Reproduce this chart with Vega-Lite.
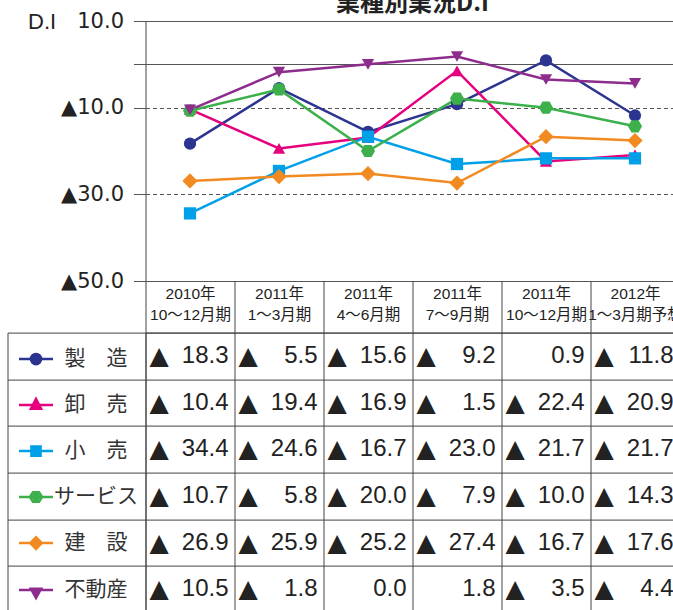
{
  "$schema": "https://vega.github.io/schema/vega-lite/v6.json",
  "padding": {"left": 6.5, "top": -9, "right": 0, "bottom": 0},
  "background": "white",
  "config": {
    "view": {"stroke": "#444", "strokeWidth": 1},
    "font": "Liberation Sans"
  },
  "data": {"values": [
    {"series": "製　造", "period": "2010年 10～12月期", "value": -18.3},
    {"series": "製　造", "period": "2011年 1～3月期", "value": -5.5},
    {"series": "製　造", "period": "2011年 4～6月期", "value": -15.6},
    {"series": "製　造", "period": "2011年 7～9月期", "value": -9.2},
    {"series": "製　造", "period": "2011年 10～12月期", "value": 0.9},
    {"series": "製　造", "period": "2012年 1～3月期予想", "value": -11.8},
    {"series": "卸　売", "period": "2010年 10～12月期", "value": -10.4},
    {"series": "卸　売", "period": "2011年 1～3月期", "value": -19.4},
    {"series": "卸　売", "period": "2011年 4～6月期", "value": -16.9},
    {"series": "卸　売", "period": "2011年 7～9月期", "value": -1.5},
    {"series": "卸　売", "period": "2011年 10～12月期", "value": -22.4},
    {"series": "卸　売", "period": "2012年 1～3月期予想", "value": -20.9},
    {"series": "小　売", "period": "2010年 10～12月期", "value": -34.4},
    {"series": "小　売", "period": "2011年 1～3月期", "value": -24.6},
    {"series": "小　売", "period": "2011年 4～6月期", "value": -16.7},
    {"series": "小　売", "period": "2011年 7～9月期", "value": -23.0},
    {"series": "小　売", "period": "2011年 10～12月期", "value": -21.7},
    {"series": "小　売", "period": "2012年 1～3月期予想", "value": -21.7},
    {"series": "サービス", "period": "2010年 10～12月期", "value": -10.7},
    {"series": "サービス", "period": "2011年 1～3月期", "value": -5.8},
    {"series": "サービス", "period": "2011年 4～6月期", "value": -20.0},
    {"series": "サービス", "period": "2011年 7～9月期", "value": -7.9},
    {"series": "サービス", "period": "2011年 10～12月期", "value": -10.0},
    {"series": "サービス", "period": "2012年 1～3月期予想", "value": -14.3},
    {"series": "建　設", "period": "2010年 10～12月期", "value": -26.9},
    {"series": "建　設", "period": "2011年 1～3月期", "value": -25.9},
    {"series": "建　設", "period": "2011年 4～6月期", "value": -25.2},
    {"series": "建　設", "period": "2011年 7～9月期", "value": -27.4},
    {"series": "建　設", "period": "2011年 10～12月期", "value": -16.7},
    {"series": "建　設", "period": "2012年 1～3月期予想", "value": -17.6},
    {"series": "不動産", "period": "2010年 10～12月期", "value": -10.5},
    {"series": "不動産", "period": "2011年 1～3月期", "value": -1.8},
    {"series": "不動産", "period": "2011年 4～6月期", "value": 0.0},
    {"series": "不動産", "period": "2011年 7～9月期", "value": 1.8},
    {"series": "不動産", "period": "2011年 10～12月期", "value": -3.5},
    {"series": "不動産", "period": "2012年 1～3月期予想", "value": -4.4}
  ]},
  "bounds": "flush",
  "spacing": 51.6,
  "resolve": {"scale": {"x": "independent", "y": "independent", "shape": "independent", "stroke": "independent", "color": "independent"}},
  "vconcat": [
    {
      "width": 534,
      "height": 260,
      "title": {"text": "業種別業況D.I", "font": "Noto Sans CJK JP", "fontSize": 24, "fontWeight": "bold", "color": "#222", "anchor": "middle", "baseline": "alphabetic", "offset": -25},
      "encoding": {
        "x": {"field": "period", "type": "nominal", "bandPosition": 0.5,
          "sort": ["2010年 10～12月期", "2011年 1～3月期", "2011年 4～6月期", "2011年 7～9月期", "2011年 10～12月期", "2012年 1～3月期予想"],
          "scale": {"type": "band", "paddingInner": 0, "paddingOuter": 0},
          "axis": {"title": null, "orient": "bottom", "domain": false, "tickBand": "extent", "tickSize": 51.6, "tickColor": "#444", "labelExpr": "split(datum.label, ' ')", "labelFont": "Liberation Sans, Noto Sans CJK JP", "labelFontSize": 15.5, "labelLineHeight": 21, "labelBaseline": "top", "labelPadding": -46, "labelColor": "#222", "labelAngle": 0, "labelOverlap": false, "labelBound": false, "labelFlush": false, "labelLimit": 200}},
        "y": {"field": "value", "type": "quantitative",
          "scale": {"domain": [-50, 10], "nice": false, "zero": false},
          "axis": {"title": "D.I", "titleAngle": 0, "titleX": -118, "titleY": 0, "titleAlign": "left", "titleBaseline": "middle", "titleFont": "Liberation Sans", "titleFontSize": 22, "titleFontWeight": "normal", "titleColor": "#222",
            "values": [10, 0, -10, -30, -50],
            "labelExpr": "datum.value == 0 ? '' : (datum.value < 0 ? '▲' + format(-datum.value, '.1f') : format(datum.value, '.1f'))",
            "labelFont": "DejaVu Sans", "labelFontSize": 21, "labelColor": "#222", "labelPadding": 10, "labelBound": false, "labelFlush": false, "labelOverlap": false,
            "tickSize": 12, "tickColor": "#555", "domain": false,
            "grid": true, "gridColor": "#555", "gridOpacity": 1,
            "gridDash": {"condition": {"test": "datum.value == -10 || datum.value == -30", "value": [4, 3]}, "value": []}}},
        "color": {"field": "series", "type": "nominal",
          "scale": {"domain": ["製　造", "卸　売", "小　売", "サービス", "建　設", "不動産"], "range": ["#2B3590", "#E6007E", "#00A0E9", "#3CB04A", "#F18A21", "#8E2C8E"]},
          "legend": null}
      },
      "layer": [
        {"mark": {"type": "line", "strokeWidth": 2.5}, "encoding": {"order": {"value": null}}},
        {"mark": {"type": "point", "filled": true, "size": 150, "opacity": 1},
          "encoding": {"shape": {"field": "series", "type": "nominal",
            "scale": {"domain": ["製　造", "卸　売", "小　売", "サービス", "建　設", "不動産"], "range": ["circle", "triangle-up", "square", "M-1.15,0L-0.58,-1L0.58,-1L1.15,0L0.58,1L-0.58,1Z", "M0,-1.25L1.25,0L0,1.25L-1.25,0Z", "triangle-down"]},
            "legend": null}}}
      ]
    },
    {
      "width": 534,
      "height": 280,
      "transform": [{"calculate": "format(abs(datum.value), '.1f')", "as": "num"}],
      "encoding": {
        "y": {"field": "series", "type": "nominal",
          "sort": ["製　造", "卸　売", "小　売", "サービス", "建　設", "不動産"],
          "scale": {"type": "band", "paddingInner": 0, "paddingOuter": 0},
          "axis": {"title": null, "labels": false, "offset": 138, "tickBand": "extent", "tickSize": -672, "tickColor": "#444", "domainColor": "#444", "grid": false}}
      },
      "layer": [
        {"mark": {"type": "point", "filled": false, "opacity": 0, "size": 10, "strokeWidth": 2.5},
          "encoding": {
            "x": {"field": "period", "type": "nominal",
              "sort": ["2010年 10～12月期", "2011年 1～3月期", "2011年 4～6月期", "2011年 7～9月期", "2011年 10～12月期", "2012年 1～3月期予想"],
              "scale": {"type": "band", "paddingInner": 0, "paddingOuter": 0},
              "axis": {"title": null, "labels": false, "ticks": false, "domain": false, "grid": true, "tickBand": "extent", "gridColor": "#444", "gridOpacity": 1}},
            "stroke": {"field": "series", "type": "nominal",
              "scale": {"domain": ["製　造", "卸　売", "小　売", "サービス", "建　設", "不動産"], "range": ["#2B3590", "#E6007E", "#00A0E9", "#3CB04A", "#F18A21", "#8E2C8E"]},
              "legend": {"title": null, "orient": "none", "legendX": -128, "legendY": 8, "direction": "vertical", "columns": 1, "symbolSize": 1156, "symbolStrokeWidth": 2.5, "symbolOpacity": 1, "symbolFillColor": "transparent", "labelFont": "Noto Sans CJK JP", "labelFontSize": 21, "labelColor": "#333", "labelAlign": "center", "labelOffset": 41.5, "labelLimit": 200, "rowPadding": 17, "padding": 0, "offset": 0}},
            "shape": {"field": "series", "type": "nominal",
              "scale": {"domain": ["製　造", "卸　売", "小　売", "サービス", "建　設", "不動産"], "range": [
                "M-1,0H1M0.3,0A0.3,0.3,0,1,1,-0.3,0A0.3,0.3,0,1,1,0.3,0ZM0.18,0A0.18,0.18,0,1,1,-0.18,0A0.18,0.18,0,1,1,0.18,0ZM0.06,0A0.06,0.06,0,1,1,-0.06,0A0.06,0.06,0,1,1,0.06,0Z",
                "M-1,0H1M-0.3,0.22L0,-0.36L0.3,0.22ZM-0.15,0.124L0,-0.167L0.15,0.124ZM-0.045,0.056L0,-0.03L0.045,0.056Z",
                "M-1,0H1M-0.27,-0.27H0.27V0.27H-0.27ZM-0.15,-0.15H0.15V0.15H-0.15ZM-0.05,-0.05H0.05V0.05H-0.05Z",
                "M-1,0H1M-0.36,0L-0.18,-0.28H0.18L0.36,0L0.18,0.28H-0.18ZM-0.18,0L-0.09,-0.14H0.09L0.18,0L0.09,0.14H-0.09ZM-0.05,0L-0.025,-0.04H0.025L0.05,0L0.025,0.04H-0.025Z",
                "M-1,0H1M-0.34,0L0,-0.34L0.34,0L0,0.34ZM-0.2,0L0,-0.2L0.2,0L0,0.2ZM-0.06,0L0,-0.06L0.06,0L0,0.06Z",
                "M-1,0H1M-0.3,-0.08H0.3L0,0.46ZM-0.15,0.01H0.15L0,0.28ZM-0.045,0.073H0.045L0,0.154Z"]},
              "legend": {"title": null, "orient": "none", "legendX": -128, "legendY": 8, "direction": "vertical", "columns": 1, "symbolSize": 1156, "symbolStrokeWidth": 2.5, "symbolOpacity": 1, "symbolFillColor": "transparent", "labelFont": "Noto Sans CJK JP", "labelFontSize": 21, "labelColor": "#333", "labelAlign": "center", "labelOffset": 41.5, "labelLimit": 200, "rowPadding": 17, "padding": 0, "offset": 0}}
          }},
        {"transform": [{"filter": "datum.value < 0"}],
          "mark": {"type": "text", "text": "▲", "align": "left", "baseline": "middle", "dx": 4, "font": "DejaVu Sans", "fontSize": 25, "color": "#222"},
          "encoding": {"x": {"field": "period", "type": "nominal", "bandPosition": 0,
            "sort": ["2010年 10～12月期", "2011年 1～3月期", "2011年 4～6月期", "2011年 7～9月期", "2011年 10～12月期", "2012年 1～3月期予想"],
            "scale": {"type": "band", "paddingInner": 0, "paddingOuter": 0},
            "axis": {"title": null, "labels": false, "ticks": false, "domain": false, "grid": true, "tickBand": "extent", "gridColor": "#444", "gridOpacity": 1}}}},
        {"mark": {"type": "text", "align": "right", "baseline": "middle", "dx": -6, "fontSize": 24, "color": "#222"},
          "encoding": {"x": {"field": "period", "type": "nominal", "bandPosition": 1,
            "sort": ["2010年 10～12月期", "2011年 1～3月期", "2011年 4～6月期", "2011年 7～9月期", "2011年 10～12月期", "2012年 1～3月期予想"],
            "scale": {"type": "band", "paddingInner": 0, "paddingOuter": 0},
            "axis": {"title": null, "labels": false, "ticks": false, "domain": false, "grid": true, "tickBand": "extent", "gridColor": "#444", "gridOpacity": 1}},
            "text": {"field": "num"}}}
      ]
    }
  ]
}
